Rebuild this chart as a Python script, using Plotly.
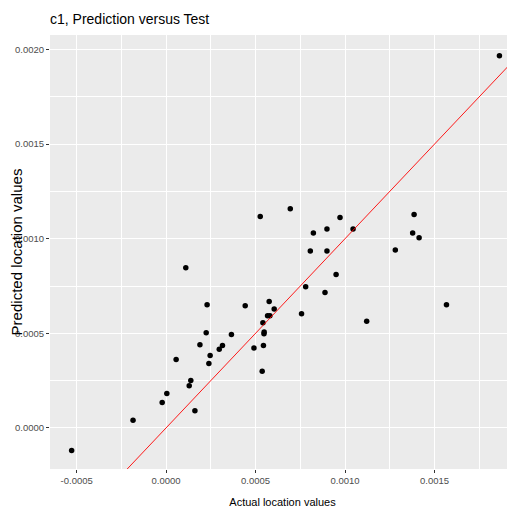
import plotly.graph_objects as go

# Data (actual vs predicted location values)
actual = [0.001863, 0.000694, 0.000526, 0.001386, 0.000972, 0.000899, 0.000823, 0.001045,
          0.001378, 0.001414, 0.000806, 0.000899, 0.001281, 0.000110, 0.000950, 0.000780,
          0.000888, 0.000229, 0.000442, 0.000576, 0.000604, 0.000567, 0.000580, 0.000757,
          0.000541, 0.001121, 0.001567, 0.000224, 0.000365, 0.000548, 0.000547, 0.000189,
          0.000315, 0.000297, 0.000491, 0.000544, 0.000246, 0.000239, 0.000537, 0.000056,
          0.000138, 0.000129, 0.000161, -0.000022, 0.000004, -0.000185, -0.000528]
predicted = [0.001967, 0.001158, 0.001117, 0.001128, 0.001112, 0.001052, 0.001030, 0.001052,
             0.001030, 0.001005, 0.000935, 0.000935, 0.000940, 0.000846, 0.000811, 0.000746,
             0.000716, 0.000651, 0.000646, 0.000668, 0.000628, 0.000593, 0.000593, 0.000603,
             0.000556, 0.000563, 0.000651, 0.000503, 0.000493, 0.000507, 0.000498, 0.000440,
             0.000435, 0.000416, 0.000422, 0.000435, 0.000382, 0.000340, 0.000299, 0.000362,
             0.000251, 0.000223, 0.000091, 0.000134, 0.000181, 0.000040, -0.000120]

# Reference line y = intercept + slope * x
abline_intercept = 0.0
abline_slope = 1.0

x_tickvals = [-0.0005, 0.0, 0.0005, 0.0010, 0.0015]
x_ticktext = ["-0.0005", "0.0000", "0.0005", "0.0010", "0.0015"]
y_tickvals = [0.0, 0.0005, 0.0010, 0.0015, 0.0020]
y_ticktext = ["0.0000", "0.0005", "0.0010", "0.0015", "0.0020"]
x_minor = [-0.00075, -0.00025, 0.00025, 0.00075, 0.00125, 0.00175]
y_minor = [-0.00025, 0.00025, 0.00075, 0.00125, 0.00175]

title_text = "c1, Prediction versus Test"
x_title = "Actual location values"
y_title = "Predicted location values"

x_range = [-0.000649, 0.00195]
y_range = [-0.0002175, 0.002077]

FONT = "Liberation Sans, Arial, sans-serif"

# The page body has an 8px default margin, so the figure is sized to fill the rest
W, H = 507, 505

fig = go.Figure()
fig.add_trace(go.Scatter(
    x=actual, y=predicted, mode="markers",
    marker=dict(color="black", size=5.5, line=dict(width=0)),
    showlegend=False, hoverinfo="skip"))
fig.add_trace(go.Scatter(
    x=x_range,
    y=[abline_intercept + abline_slope * v for v in x_range],
    mode="lines", line=dict(color="red", width=0.9),
    showlegend=False, hoverinfo="skip"))

axis_common = dict(
    showline=False, zeroline=False,
    showgrid=True, gridcolor="white", gridwidth=1.1,
    ticks="outside", ticklen=3, tickwidth=1, tickcolor="#333333",
    tickfont=dict(family=FONT, size=9.5, color="#4D4D4D"),
    automargin=False,
)

fig.update_layout(
    width=W, height=H,
    margin=dict(l=42, r=0, t=27, b=44),
    paper_bgcolor="white", plot_bgcolor="#EBEBEB",
    title=dict(text=title_text, x=0, xanchor="left", xref="paper",
               y=1 - 11/H, yanchor="middle", yref="container",
               font=dict(family=FONT, size=14, color="black")),
    xaxis=dict(range=x_range, tickmode="array", tickvals=x_tickvals, ticktext=x_ticktext,
               minor=dict(showgrid=True, gridcolor="white", gridwidth=0.5, ticks="",
                          tickmode="array", tickvals=x_minor),
               title=dict(text=x_title, standoff=12,
                          font=dict(family=FONT, size=11, color="black")),
               **axis_common),
    yaxis=dict(range=y_range, tickmode="array", tickvals=y_tickvals, ticktext=y_ticktext,
               minor=dict(showgrid=True, gridcolor="white", gridwidth=0.5, ticks="",
                          tickmode="array", tickvals=y_minor),
               title=dict(text=y_title, standoff=11,
                          font=dict(family=FONT, size=15, color="black")),
               **axis_common),
)

fig.write_html("out.html")
